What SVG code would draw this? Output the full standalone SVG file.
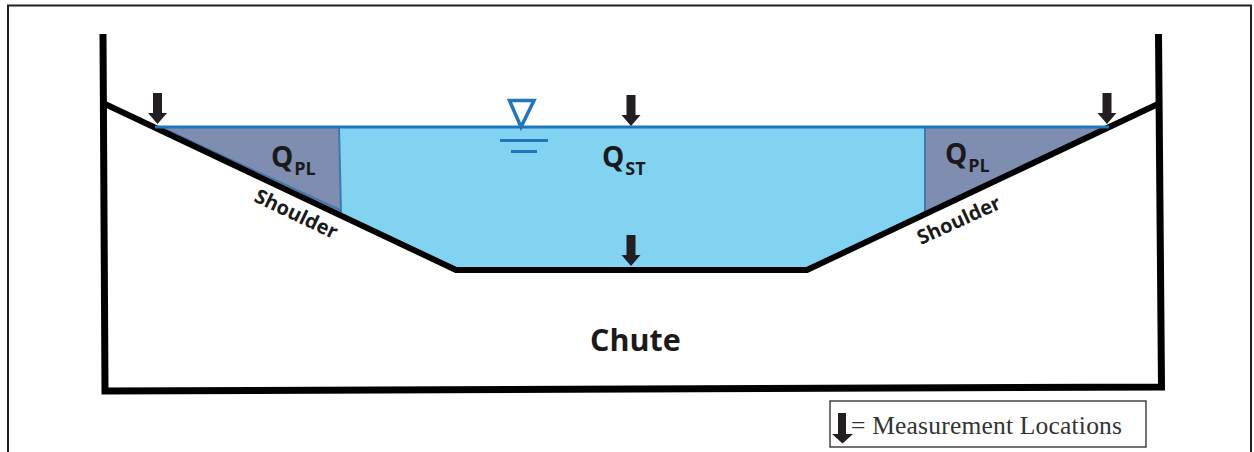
<svg xmlns="http://www.w3.org/2000/svg" width="1254" height="452" viewBox="0 0 1254 452">
<style>
.s{font-family:"Open Sans","Liberation Sans",sans-serif;font-weight:700;fill:#1a1a1a}
.q{font-size:28px}.sub{font-size:18px}
.sh{font-size:20px}
.w{fill:none;stroke:#000;stroke-width:6}
.wall{stroke-width:7}
</style>
<defs><path id="arrow" d="M-4.500 0H4.500V20H9.500L0 31L-9.500 20H-4.500Z" fill="#231f20"/></defs>
<rect width="1254" height="452" fill="#fff"/>
<path d="M8 452V5.500H1251V452" fill="none" stroke="#231f20" stroke-width="2"/>
<g id="water">
<polygon points="155,127 1108,127 925,212 806,269 456,269 340,212" fill="#82d2f2"/>
<polygon id="pl-left" points="155,127 339,127 341,213" fill="#7f8eb0"/>
<polygon id="pl-right" points="925,127 1108,127 925,213" fill="#7f8eb0"/>
<path d="M339 127L341 213M925 127V213" stroke="#3f78ab" stroke-width="2" fill="none"/>
<path d="M160 127L340 210" stroke="#3f78ab" stroke-width="2" fill="none"/>
</g>
<g id="channel">
<path class="w wall" d="M103 34L105 391L1161.500 387L1158.500 34"/>
<path class="w" d="M105 104L456 270H807L1158 104"/>
</g>
<g id="water-line">
<path d="M155 127H1109" stroke="#1f76bd" stroke-width="3" fill="none"/>
</g>
<g id="water-symbol">
<polygon points="509.500,100.500 534,100.500 521,127" fill="none" stroke="#1f76bd" stroke-width="3.500"/>
<path d="M500 140.500H548M511 151.500H537" stroke="#1f76bd" stroke-width="3" fill="none"/>
</g>
<g id="arrows">
<use href="#arrow" x="157.500" y="93"/>
<use href="#arrow" x="631" y="95"/>
<use href="#arrow" x="1107" y="93"/>
<use href="#arrow" x="631" y="235"/>
</g>
<g id="labels">
<text class="s q" x="271" y="167">Q<tspan class="sub" dx="1" dy="8">PL</tspan></text>
<text class="s q" x="945" y="164">Q<tspan class="sub" dx="1" dy="8">PL</tspan></text>
<text class="s q" x="602" y="167">Q<tspan class="sub" dx="1" dy="8">ST</tspan></text>
<text class="s sh" transform="translate(253 201) rotate(25.500)">Shoulder</text>
<text class="s sh" transform="translate(921 245) rotate(-24.500)">Shoulder</text>
<text x="590" y="351" font-family="'Open Sans','Liberation Sans',sans-serif" font-weight="700" font-size="30.500" fill="#1a1a1a">Chute</text>
</g>
<g id="legend">
<rect x="830" y="401" width="316" height="46" fill="#fff" stroke="#444" stroke-width="1.500"/>
<path d="M838 413H846V434H853L842.500 443.500L832 434H838Z" fill="#231f20"/>
<text x="851" y="434" font-family="'Liberation Serif',serif" font-size="25.500" fill="#333" textLength="271" lengthAdjust="spacing">= Measurement Locations</text>
</g>
</svg>
